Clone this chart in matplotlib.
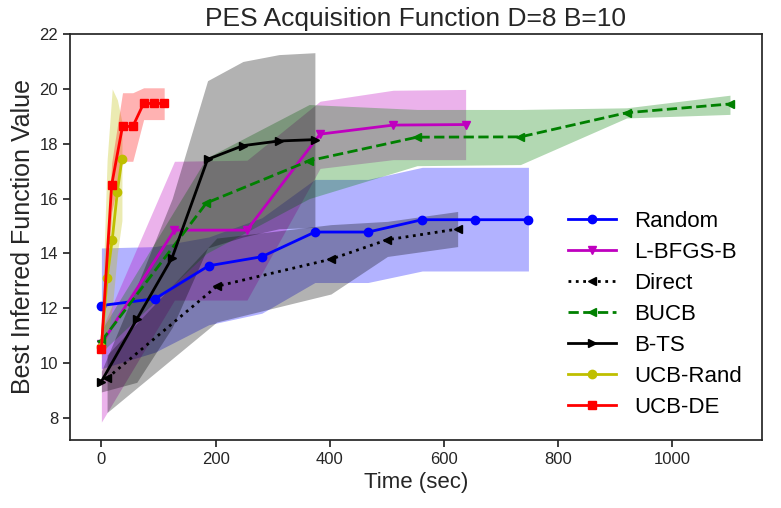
import matplotlib
matplotlib.use("Agg")
import matplotlib.pyplot as plt

plt.rcParams['font.family'] = ['Liberation Sans', 'DejaVu Sans']

# Random
rand_t = [0, 94, 188, 281, 374, 467, 562, 655, 748]
rand_v = [12.1, 12.35, 13.55, 13.88, 14.78, 14.78, 15.23, 15.23, 15.23]
rand_lo = [9.8, 10.4, 11.4, 11.82, 12.94, 12.94, 13.36, 13.36, 13.36]
rand_hi = [14.2, 14.25, 14.6, 15.3, 16.7, 16.7, 17.14, 17.14, 17.14]

# L-BFGS-B
lbfgs_t = [0, 128, 255, 383, 511, 638]
lbfgs_v = [10.7, 14.85, 14.85, 18.35, 18.68, 18.7]
lbfgs_lo = [7.85, 12.3, 12.3, 17.1, 17.42, 17.42]
lbfgs_hi = [11.2, 17.36, 17.4, 19.55, 19.95, 19.98]

# Direct
direct_t = [10, 202, 402, 501, 624]
direct_v = [9.45, 12.8, 13.79, 14.5, 14.89]
direct_lo = [8.2, 11.5, 12.52, 13.89, 14.25]
direct_hi = [10.3, 14.56, 15.05, 15.17, 15.53]

# BUCB
bucb_t = [0, 184, 364, 553, 734, 920, 1101]
bucb_v = [10.8, 15.84, 17.38, 18.24, 18.25, 19.13, 19.45]
bucb_lo = [10.4, 14.0, 16.0, 17.2, 17.24, 18.94, 19.07]
bucb_hi = [11.2, 17.48, 19.43, 19.25, 19.25, 19.31, 19.77]

# B-TS
bts_t = [0, 62, 124, 186, 248, 311, 374]
bts_v = [9.33, 11.6, 13.85, 17.43, 17.93, 18.1, 18.15]
bts_lo = [8.95, 9.3, 11.3, 14.2, 14.6, 14.9, 14.95]
bts_hi = [9.7, 12.8, 16.0, 20.3, 21.0, 21.25, 21.32]

# UCB-Rand
ucbr_t = [0, 10, 19, 28, 36]
ucbr_v = [10.6, 13.1, 14.5, 16.25, 17.45]
ucbr_lo = [10.2, 10.9, 12.0, 14.0, 15.2]
ucbr_hi = [11.0, 17.4, 20.0, 19.6, 18.8]

# UCB-DE
ucbde_t = [0, 18, 37, 55, 74, 92, 110]
ucbde_v = [10.5, 16.5, 18.63, 18.63, 19.47, 19.47, 19.47]
ucbde_lo = [10.3, 15.5, 17.36, 17.36, 18.88, 18.88, 18.88]
ucbde_hi = [10.7, 17.3, 19.86, 19.86, 20.04, 20.04, 20.04]

series = [
    ("Random", rand_t, rand_v, rand_lo, rand_hi, 'b', '-', 'o'),
    ("L-BFGS-B", lbfgs_t, lbfgs_v, lbfgs_lo, lbfgs_hi, 'm', '-', 'v'),
    ("Direct", direct_t, direct_v, direct_lo, direct_hi, 'k', ':', '<'),
    ("BUCB", bucb_t, bucb_v, bucb_lo, bucb_hi, 'g', '--', '<'),
    ("B-TS", bts_t, bts_v, bts_lo, bts_hi, 'k', '-', '>'),
    ("UCB-Rand", ucbr_t, ucbr_v, ucbr_lo, ucbr_hi, 'y', '-', 'o'),
    ("UCB-DE", ucbde_t, ucbde_v, ucbde_lo, ucbde_hi, 'r', '-', 's'),
]

fig = plt.figure(figsize=(7.81, 5.08), dpi=100)
ax = fig.add_axes([0.0896, 0.134, 0.886, 0.799])

for name, t, v, lo, hi, c, ls, mk in series:
    ax.fill_between(t, lo, hi, color=c, alpha=0.3, linewidth=0)
    ax.plot(t, v, color=c, linestyle=ls, marker=mk, markersize=6,
            linewidth=2, label=name)

ax.set_xlim(-55, 1157)
ax.set_ylim(7.2, 22)
ax.set_yticks([8, 10, 12, 14, 16, 18, 20, 22])
ax.set_xticks([0, 200, 400, 600, 800, 1000])

for s in ax.spines.values():
    s.set_color('.15')
    s.set_linewidth(1.25)
ax.tick_params(direction='out', length=5, width=1.25, colors='.15',
               labelsize=12)

ax.set_title("PES Acquisition Function D=8 B=10", fontsize=19, color='.15')
ax.set_xlabel("Time (sec)", fontsize=16, color='.15')
ax.set_ylabel("Best Inferred Function Value", fontsize=18, color='.15',
              labelpad=3)

ax.legend(loc='center right', bbox_to_anchor=(1.0, 0.31), frameon=False,
          fontsize=16, numpoints=1, handlelength=2.2, labelspacing=0.45)

fig.savefig("out.png", dpi=100)
